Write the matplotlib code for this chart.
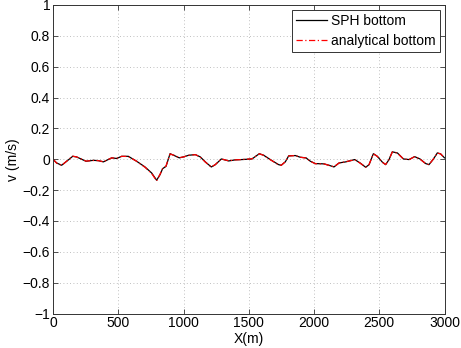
import matplotlib
matplotlib.use("Agg")
import matplotlib.pyplot as plt

plt.rcParams['font.family'] = ['Liberation Sans', 'DejaVu Sans']

sph_x = [0, 28, 66, 105, 151, 181, 253, 309, 347, 386, 450, 488, 526, 577, 641, 705, 756,
         794, 820, 840, 866, 897, 927, 968, 999, 1040, 1091, 1129, 1167, 1213, 1244, 1290,
         1346, 1397, 1448, 1525, 1581, 1614, 1665, 1729, 1749, 1780, 1806, 1857, 1895, 1939,
         1972, 2010, 2077, 2115, 2153, 2192, 2243, 2281, 2312, 2353, 2396, 2422, 2455, 2485,
         2524, 2549, 2575, 2600, 2639, 2685, 2728, 2771, 2812, 2856, 2881, 2914, 2945, 2970, 3000]
sph_v = [0.000, -0.024, -0.039, -0.013, 0.019, 0.015, -0.013, -0.007, -0.009, -0.017, 0.009,
         0.005, 0.019, 0.019, -0.013, -0.050, -0.089, -0.136, -0.100, -0.061, -0.046, 0.036,
         0.025, 0.009, 0.015, 0.026, 0.030, 0.015, -0.017, -0.050, -0.035, 0.002, -0.011,
         -0.004, -0.002, 0.002, 0.036, 0.026, -0.002, -0.035, -0.039, -0.017, 0.022, 0.024,
         0.013, 0.009, -0.013, -0.028, -0.030, -0.039, -0.050, -0.024, -0.017, -0.009, -0.002,
         -0.024, -0.052, -0.035, 0.036, 0.019, -0.019, -0.035, -0.002, 0.048, 0.041, 0.002,
         -0.002, 0.017, 0.002, -0.028, -0.035, 0.000, 0.041, 0.035, 0.009]

ana_x = sph_x
ana_v = [0.000, -0.025, -0.040, -0.012, 0.020, 0.015, -0.012, -0.008, -0.009, -0.016, 0.009,
         0.006, 0.019, 0.018, -0.013, -0.052, -0.092, -0.140, -0.098, -0.060, -0.044, 0.034,
         0.026, 0.010, 0.015, 0.025, 0.030, 0.014, -0.018, -0.051, -0.034, 0.002, -0.010,
         -0.004, -0.002, 0.003, 0.035, 0.026, -0.003, -0.036, -0.039, -0.016, 0.021, 0.024,
         0.013, 0.008, -0.013, -0.029, -0.030, -0.040, -0.049, -0.024, -0.016, -0.009, -0.003,
         -0.025, -0.051, -0.034, 0.035, 0.019, -0.020, -0.034, -0.001, 0.047, 0.040, 0.002,
         -0.003, 0.017, 0.001, -0.029, -0.035, 0.001, 0.040, 0.035, 0.008]

x_ticks = [0, 500, 1000, 1500, 2000, 2500, 3000]
y_ticks = [-1, -0.8, -0.6, -0.4, -0.2, 0, 0.2, 0.4, 0.6, 0.8, 1]
y_tick_labels = ['\u22121', '\u22120.8', '\u22120.6', '\u22120.4', '\u22120.2', '0',
                 '0.2', '0.4', '0.6', '0.8', '1']

fig = plt.figure(figsize=(4.61, 3.48), dpi=100)
ax = fig.add_axes([53 / 461, (348 - 313.5) / 348, 391.5 / 461, 308.5 / 348])

ax.plot(sph_x, sph_v, color='black', lw=0.9, label='SPH bottom')
ax.plot(ana_x, ana_v, color='#ff0000', lw=0.9, linestyle=(0, (5, 2, 1, 2)), label='analytical bottom')

ax.set_xlim(0, 3000)
ax.set_ylim(-1, 1)
ax.set_xticks(x_ticks)
ax.set_yticks(y_ticks)
ax.set_yticklabels(y_tick_labels)
ax.tick_params(direction='in', length=3.5, width=0.6, top=True, right=True,
               labelsize=10, colors='#333333', labelcolor='black', pad=2)
for s in ax.spines.values():
    s.set_color('#333333')
    s.set_linewidth(0.7)
ax.grid(True, linestyle=(0, (1, 3)), color='#aaaaaa', linewidth=0.6)

ax.set_xlabel('X(m)', fontsize=10, labelpad=1)
ax.set_ylabel('v (m/s)', fontsize=10, labelpad=2)

leg = ax.legend(loc='upper right', bbox_to_anchor=(440 / 461, 1 - 10 / 348),
                bbox_transform=fig.transFigure, fontsize=10, fancybox=False,
                framealpha=1, edgecolor='#333333', borderpad=0.3, labelspacing=0.4,
                handlelength=2.2, handletextpad=0.3, borderaxespad=0)
leg.get_frame().set_linewidth(0.7)

fig.savefig('out.png', dpi=100)
